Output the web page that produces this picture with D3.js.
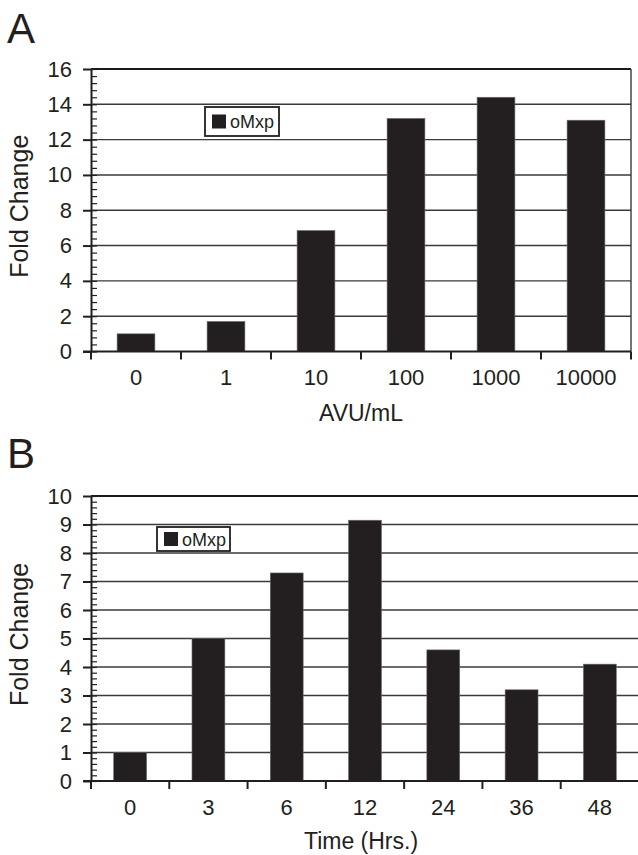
<!DOCTYPE html>
<html>
<head>
<meta charset="utf-8">
<script src="https://cdn.jsdelivr.net/npm/d3@7"></script>
<style>
  body { margin: 0; background: #fff; }
  text { font-family: "Liberation Sans", Arial, Helvetica, sans-serif; fill: #231f20; }
</style>
</head>
<body>
<svg id="chart" width="638" height="855"></svg>
<script>
// panel A: dose response
const catsA = ["0", "1", "10", "100", "1000", "10000"];
const valsA = [1.0, 1.7, 6.85, 13.2, 14.4, 13.1];
const ticksA = [0, 2, 4, 6, 8, 10, 12, 14, 16];

// panel B: time course
const catsB = ["0", "3", "6", "12", "24", "36", "48"];
const valsB = [1.0, 5.0, 7.3, 9.15, 4.6, 3.2, 4.1];
const ticksB = [0, 1, 2, 3, 4, 5, 6, 7, 8, 9, 10];

const seriesName = "oMxp";
const ink = "#231f20";

const svg = d3.select("#chart");

function drawPanel(cfg) {
    const g = svg.append("g");

    const x = d3.scaleBand()
        .domain(cfg.cats)
        .range([cfg.left, cfg.right])
        .padding(0);

    const y = d3.scaleLinear()
        .domain([0, d3.max(cfg.ticks)])
        .range([cfg.bottom, cfg.top]);

    // panel letter
    g.append("text")
        .attr("x", 7)
        .attr("y", cfg.letterY)
        .attr("font-size", 42)
        .text(cfg.letter);

    // gridlines
    g.append("g")
        .selectAll("line")
        .data(cfg.ticks.filter(t => t > 0))
        .join("line")
        .attr("x1", cfg.left)
        .attr("x2", cfg.right)
        .attr("y1", d => y(d))
        .attr("y2", d => y(d))
        .attr("stroke", (d, i, n) => i === n.length - 1 ? "#1a1a1a" : "#3a3a3a")
        .attr("stroke-width", (d, i, n) => i === n.length - 1 ? 2.2 : 1.4);

    if (cfg.rightBorder) {
        g.append("line")
            .attr("x1", cfg.right).attr("x2", cfg.right)
            .attr("y1", cfg.top).attr("y2", cfg.bottom)
            .attr("stroke", "#3a3a3a")
            .attr("stroke-width", 1.4);
    }

    // bars
    const frac = 0.42;
    g.append("g")
        .selectAll("rect")
        .data(cfg.vals)
        .join("rect")
        .attr("x", (d, i) => x(cfg.cats[i]) + x.bandwidth() * (1 - frac) / 2)
        .attr("width", x.bandwidth() * frac)
        .attr("y", d => y(d))
        .attr("height", d => y(0) - y(d))
        .attr("fill", ink)
        .attr("stroke", "#6b6b6b")
        .attr("stroke-width", 0.6);

    // minor ticks inside the axis
    g.append("g")
        .attr("transform", `translate(${cfg.left},0)`)
        .call(d3.axisRight(y).tickValues(d3.range(0, d3.max(cfg.ticks) + 1e-9, cfg.minor)).tickSize(6).tickFormat(""))
        .call(a => a.select(".domain").remove())
        .call(a => a.selectAll("line").attr("stroke", ink).attr("stroke-width", 1.2));

    // y axis
    g.append("g")
        .attr("transform", `translate(${cfg.left},0)`)
        .call(d3.axisLeft(y).tickValues(cfg.ticks).tickSize(8).tickSizeOuter(0).tickPadding(11))
        .call(a => a.select(".domain").attr("stroke", ink).attr("stroke-width", 2))
        .call(a => a.selectAll("line").attr("stroke", ink).attr("stroke-width", 2))
        .call(a => a.selectAll("text").attr("font-size", 22).attr("fill", ink));

    // x axis labels
    g.append("g")
        .attr("transform", `translate(0,${cfg.bottom})`)
        .call(d3.axisBottom(x).tickSize(0).tickSizeOuter(0).tickPadding(18))
        .call(a => a.select(".domain").attr("stroke", ink).attr("stroke-width", 2.2)
            .attr("d", `M${cfg.left - 8},0H${cfg.right}`))
        .call(a => a.selectAll("text").attr("font-size", 22).attr("fill", ink));

    // x ticks at category boundaries
    const bounds = cfg.cats.map(c => x(c)).concat([x.range()[1]]);
    g.append("g")
        .selectAll("line")
        .data(bounds)
        .join("line")
        .attr("x1", d => d).attr("x2", d => d)
        .attr("y1", cfg.bottom).attr("y2", cfg.bottom + 8)
        .attr("stroke", ink)
        .attr("stroke-width", 2);

    // axis titles
    g.append("text")
        .attr("x", (cfg.left + Math.min(cfg.right, 631)) / 2)
        .attr("y", cfg.xTitleY)
        .attr("text-anchor", "middle")
        .attr("font-size", 23)
        .text(cfg.xTitle);

    g.append("text")
        .attr("transform", `translate(28,${(cfg.top + cfg.bottom) / 2 - 4}) rotate(-90)`)
        .attr("text-anchor", "middle")
        .attr("font-size", 25)
        .text("Fold Change");

    // legend
    const lg = cfg.legend;
    g.append("rect")
        .attr("x", lg.x).attr("y", lg.y)
        .attr("width", lg.w).attr("height", lg.h)
        .attr("fill", "#fff")
        .attr("stroke", ink)
        .attr("stroke-width", 1.8);
    g.append("rect")
        .attr("x", lg.x + 7).attr("y", lg.y + (lg.h - 14) / 2)
        .attr("width", 14).attr("height", 14)
        .attr("fill", ink);
    g.append("text")
        .attr("x", lg.x + 25)
        .attr("y", lg.y + lg.h / 2 + 6.5)
        .attr("font-size", 18)
        .text(seriesName);
}

drawPanel({
    letter: "A", letterY: 43,
    cats: catsA, vals: valsA, ticks: ticksA, minor: 0.4,
    left: 91, right: 631, top: 69, bottom: 351.5,
    rightBorder: true,
    xTitle: "AVU/mL", xTitleY: 421,
    legend: { x: 205, y: 107, w: 74, h: 29 }
});

drawPanel({
    letter: "B", letterY: 468,
    cats: catsB, vals: valsB, ticks: ticksB, minor: 0.2,
    left: 91, right: 639, top: 496, bottom: 781,
    rightBorder: false,
    xTitle: "Time (Hrs.)", xTitleY: 849,
    legend: { x: 157, y: 527, w: 73, h: 24 }
});
</script>
</body>
</html>
